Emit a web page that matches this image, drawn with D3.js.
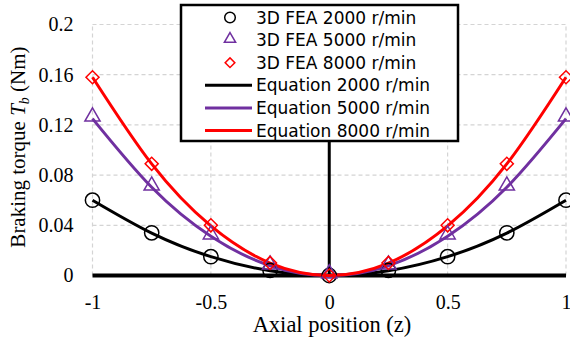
<!DOCTYPE html>
<html>
<head>
<meta charset="utf-8">
<script src="https://cdn.jsdelivr.net/npm/d3@7"></script>
<style>
  body { margin: 0; background: #fff; }
  svg { display: block; }
</style>
</head>
<body>
<div id="chart"></div>
<script>
// Axial positions and values
const zPos = [-1, -0.75, -0.5, -0.25, 0, 0.25, 0.5, 0.75, 1]

const fea2000 = [0.060, 0.034, 0.015, 0.004, 0, 0.004, 0.015, 0.034, 0.060]
const fea5000 = [0.125, 0.070, 0.031, 0.007, 0, 0.007, 0.031, 0.070, 0.125]
const fea8000 = [0.158, 0.089, 0.040, 0.010, 0, 0.010, 0.040, 0.089, 0.158]

const eq2000 = [0.060, 0.0338, 0.015, 0.0038, 0, 0.0038, 0.015, 0.0338, 0.060]
const eq5000 = [0.125, 0.0703, 0.0313, 0.0078, 0, 0.0078, 0.0313, 0.0703, 0.125]
const eq8000 = [0.158, 0.0889, 0.0395, 0.0099, 0, 0.0099, 0.0395, 0.0889, 0.158]

const xTicks = [-1, -0.5, 0, 0.5, 1]
const yTicks = [0, 0.04, 0.08, 0.12, 0.16, 0.2]

const legendLabels = [
    '3D FEA 2000 r/min', '3D FEA 5000 r/min', '3D FEA 8000 r/min',
    'Equation 2000 r/min', 'Equation 5000 r/min', 'Equation 8000 r/min'
]

const width = 570
const height = 349
const black = '#000000'
const purple = '#7030A0'
const red = '#FF0000'
const serif = '"Liberation Serif", "Times New Roman", serif'

let svg = d3.select('#chart')
    .append('svg')
    .attr('width', width)
    .attr('height', height)

// Scales
let xScale = d3.scaleLinear().domain([-1, 1]).range([92.5, 566])
let yScale = d3.scaleLinear().domain([0, 0.2]).range([275.5, 24.5])

// Grid
let grid = svg.append('g')
grid.selectAll('.vgrid')
    .data(xTicks)
    .enter()
    .append('line')
    .attr('x1', d => xScale(d))
    .attr('x2', d => xScale(d))
    .attr('y1', yScale(0))
    .attr('y2', yScale(0.2))
    .attr('stroke', '#d4d4d4')
    .attr('stroke-width', 1.2)
    .attr('stroke-dasharray', '4,3')
grid.selectAll('.hgrid')
    .data(yTicks)
    .enter()
    .append('line')
    .attr('x1', xScale(-1))
    .attr('x2', xScale(1))
    .attr('y1', d => yScale(d))
    .attr('y2', d => yScale(d))
    .attr('stroke', '#d4d4d4')
    .attr('stroke-width', 1.2)
    .attr('stroke-dasharray', '4,3')

// Axes (tick labels only) - plain hyphen for negatives like the original
let xAxis = d3.axisBottom(xScale)
    .tickValues(xTicks)
    .tickSize(0)
    .tickPadding(19)
    .tickFormat(d => String(d))
let yAxis = d3.axisLeft(yScale)
    .tickValues(yTicks)
    .tickSize(0)
    .tickPadding(19)
    .tickFormat(d => String(d))

let gx = svg.append('g')
    .attr('transform', 'translate(0,' + yScale(0) + ')')
    .call(xAxis)
let gy = svg.append('g')
    .attr('transform', 'translate(' + xScale(-1) + ',0)')
    .call(yAxis)
;[gx, gy].forEach(g => {
    g.select('.domain').remove()
    g.selectAll('text')
        .attr('font-family', serif)
        .attr('font-size', '20px')
        .attr('fill', '#000')
})

// Thick zero axes
svg.append('line')
    .attr('x1', xScale(-1))
    .attr('x2', xScale(1))
    .attr('y1', yScale(0))
    .attr('y2', yScale(0))
    .attr('stroke', black)
    .attr('stroke-width', 4)
svg.append('line')
    .attr('x1', xScale(0))
    .attr('x2', xScale(0))
    .attr('y1', yScale(0))
    .attr('y2', yScale(0.2))
    .attr('stroke', black)
    .attr('stroke-width', 3)

// Equation curves
const eqSeries = [
    { values: eq2000, color: black },
    { values: eq5000, color: purple },
    { values: eq8000, color: red }
]
let line = d3.line()
    .x((d, i) => xScale(zPos[i]))
    .y(d => yScale(d))
    .curve(d3.curveNatural)

svg.append('g').selectAll('path')
    .data(eqSeries)
    .enter()
    .append('path')
    .attr('d', d => line(d.values))
    .attr('fill', 'none')
    .attr('stroke', d => d.color)
    .attr('stroke-width', 3)

// FEA markers
const circleSym = d3.symbol().type(d3.symbolCircle).size(160)
const triSym = d3.symbol().type(d3.symbolTriangle).size(100)
const diaSym = d3.symbol().type(d3.symbolSquare).size(85)

const feaSeries = [
    { values: fea2000, color: black, sym: circleSym, rot: 0, dy: 0 },
    { values: fea5000, color: purple, sym: triSym, rot: 0, dy: -2 },
    { values: fea8000, color: red, sym: diaSym, rot: 45, dy: 0 }
]

feaSeries.forEach(s => {
    svg.append('g').selectAll('path')
        .data(s.values)
        .enter()
        .append('path')
        .attr('d', s.sym())
        .attr('transform', (d, i) => 'translate(' + xScale(zPos[i]) + ',' + (yScale(d) + s.dy) + ') rotate(' + s.rot + ')')
        .attr('fill', 'none')
        .attr('stroke', s.color)
        .attr('stroke-width', 1.5)
})

// Axis titles
svg.append('text')
    .attr('x', 332)
    .attr('y', 332)
    .attr('text-anchor', 'middle')
    .attr('font-family', serif)
    .attr('font-size', '22.5px')
    .text('Axial position (z)')

let yTitle = svg.append('text')
    .attr('transform', 'translate(25,147) rotate(-90)')
    .attr('text-anchor', 'middle')
    .attr('font-family', serif)
    .attr('font-size', '21px')
yTitle.append('tspan').text('Braking torque ')
yTitle.append('tspan').attr('font-style', 'italic').text('T')
yTitle.append('tspan').attr('font-style', 'italic').attr('font-size', '14px').attr('dy', 4).text('b')
yTitle.append('tspan').attr('dy', -4).text(' (Nm)')

// Legend
let legend = svg.append('g')
legend.append('rect')
    .attr('x', 181)
    .attr('y', 5)
    .attr('width', 277)
    .attr('height', 136)
    .attr('fill', '#fff')
    .attr('stroke', '#000')
    .attr('stroke-width', 2.5)

const legendItems = legendLabels.map((label, i) => ({
    label: label,
    series: i < 3 ? feaSeries[i] : eqSeries[i - 3],
    isMarker: i < 3
}))

let items = legend.selectAll('.item')
    .data(legendItems)
    .enter()
    .append('g')
    .attr('transform', (d, i) => 'translate(0,' + (17.5 + i * 22.6) + ')')

items.append('text')
    .attr('x', 256)
    .attr('y', 0)
    .attr('dy', '0.36em')
    .attr('font-family', '"DejaVu Sans", "Open Sans", sans-serif')
    .attr('font-size', '17px')
    .attr('fill', '#000')
    .text(d => d.label)

items.filter(d => d.isMarker)
    .append('path')
    .attr('d', d => d3.symbol().type(d.series.sym.type()).size(d.series.sym.size()() * 0.55)())
    .attr('transform', d => 'translate(230,' + (d.series.dy / 2) + ') rotate(' + d.series.rot + ')')
    .attr('fill', 'none')
    .attr('stroke', d => d.series.color)
    .attr('stroke-width', 1.5)

items.filter(d => !d.isMarker)
    .append('line')
    .attr('x1', 205)
    .attr('x2', 252)
    .attr('y1', 0)
    .attr('y2', 0)
    .attr('stroke', d => d.series.color)
    .attr('stroke-width', 3)
</script>
</body>
</html>
